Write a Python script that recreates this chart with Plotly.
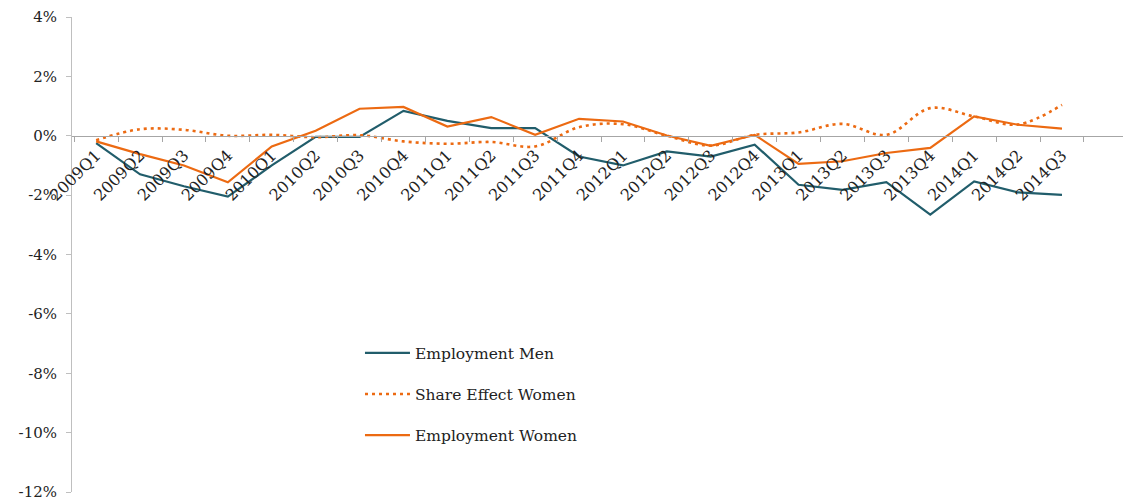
import plotly.graph_objects as go

quarters = ["2009Q1", "2009Q2", "2009Q3", "2009Q4", "2010Q1", "2010Q2", "2010Q3", "2010Q4",
            "2011Q1", "2011Q2", "2011Q3", "2011Q4", "2012Q1", "2012Q2", "2012Q3", "2012Q4",
            "2013Q1", "2013Q2", "2013Q3", "2013Q4", "2014Q1", "2014Q2", "2014Q3"]

employment_men = [-0.25, -1.3, -1.7, -2.05, -1.0, -0.04, -0.04, 0.84,
                  0.5, 0.26, 0.26, -0.7, -1.0, -0.53, -0.7, -0.3,
                  -1.65, -1.82, -1.56, -2.66, -1.54, -1.91, -1.99]

share_effect_women = [-0.15, 0.22, 0.2, 0.0, 0.03, -0.05, 0.02, -0.19,
                      -0.27, -0.21, -0.36, 0.29, 0.39, 0.0, -0.33, 0.03,
                      0.11, 0.4, 0.03, 0.93, 0.65, 0.38, 1.04]

employment_women = [-0.19, -0.62, -1.0, -1.57, -0.36, 0.17, 0.91, 0.97,
                    0.31, 0.63, 0.03, 0.57, 0.48, 0.01, -0.34, 0.03,
                    -0.95, -0.86, -0.58, -0.41, 0.65, 0.37, 0.24]

y_tick_values = [4, 2, 0, -2, -4, -6, -8, -10, -12]
y_tick_labels = ["4%", "2%", "0%", "-2%", "-4%", "-6%", "-8%", "-10%", "-12%"]

TEAL = "#215D6B"
ORANGE = "#EC6A12"
FONT = "DejaVu Serif"

fig = go.Figure()
fig.add_trace(go.Scatter(x=quarters, y=employment_men, mode="lines", name="Employment Men",
                         line=dict(color=TEAL, width=2.2), legendgroup="a"))
fig.add_trace(go.Scatter(x=quarters, y=share_effect_women, mode="lines", name="Share Effect Women",
                         line=dict(color=ORANGE, width=2.6, dash="3px,4px", shape="spline", smoothing=1),
                         legendgroup="b"))
fig.add_trace(go.Scatter(x=quarters, y=employment_women, mode="lines", name="Employment Women",
                         line=dict(color=ORANGE, width=2.2), legendgroup="c"))

fig.update_layout(
    width=1123, height=504,
    margin=dict(l=72, r=0, t=17, b=12),
    paper_bgcolor="white", plot_bgcolor="white",
    font=dict(family=FONT, size=15, color="#222222"),
    showlegend=True,
    legend=dict(x=0.274, y=0.328, xanchor="left", yanchor="top", itemwidth=45,
                bgcolor="rgba(0,0,0,0)", tracegroupgap=18,
                traceorder="grouped", font=dict(family=FONT, size=15.5, color="#222222")),
    xaxis=dict(type="category", range=[-0.55, 23.39], anchor="free", position=0.75,
               automargin=False,
               showgrid=False, zeroline=False, showline=True, linecolor="#A6A6A6", linewidth=1,
               ticks="outside", ticklen=5, tickcolor="#A6A6A6", tickson="boundaries",
               ticklabelstandoff=3,
               tickangle=-45, tickfont=dict(family=FONT, size=16, color="#222222")),
    yaxis=dict(range=[-12, 4], showgrid=False, zeroline=False, showline=True, automargin=False,
               linecolor="#BFBFBF", linewidth=1, ticks="outside", ticklen=5, tickcolor="#BFBFBF",
               ticklabelstandoff=6,
               tickvals=y_tick_values, ticktext=y_tick_labels,
               tickfont=dict(family=FONT, size=15, color="#222222")),
)

fig.write_html("out.html", config={"displayModeBar": False},
               post_script="document.body.style.margin='0px';document.body.style.overflow='hidden';")
